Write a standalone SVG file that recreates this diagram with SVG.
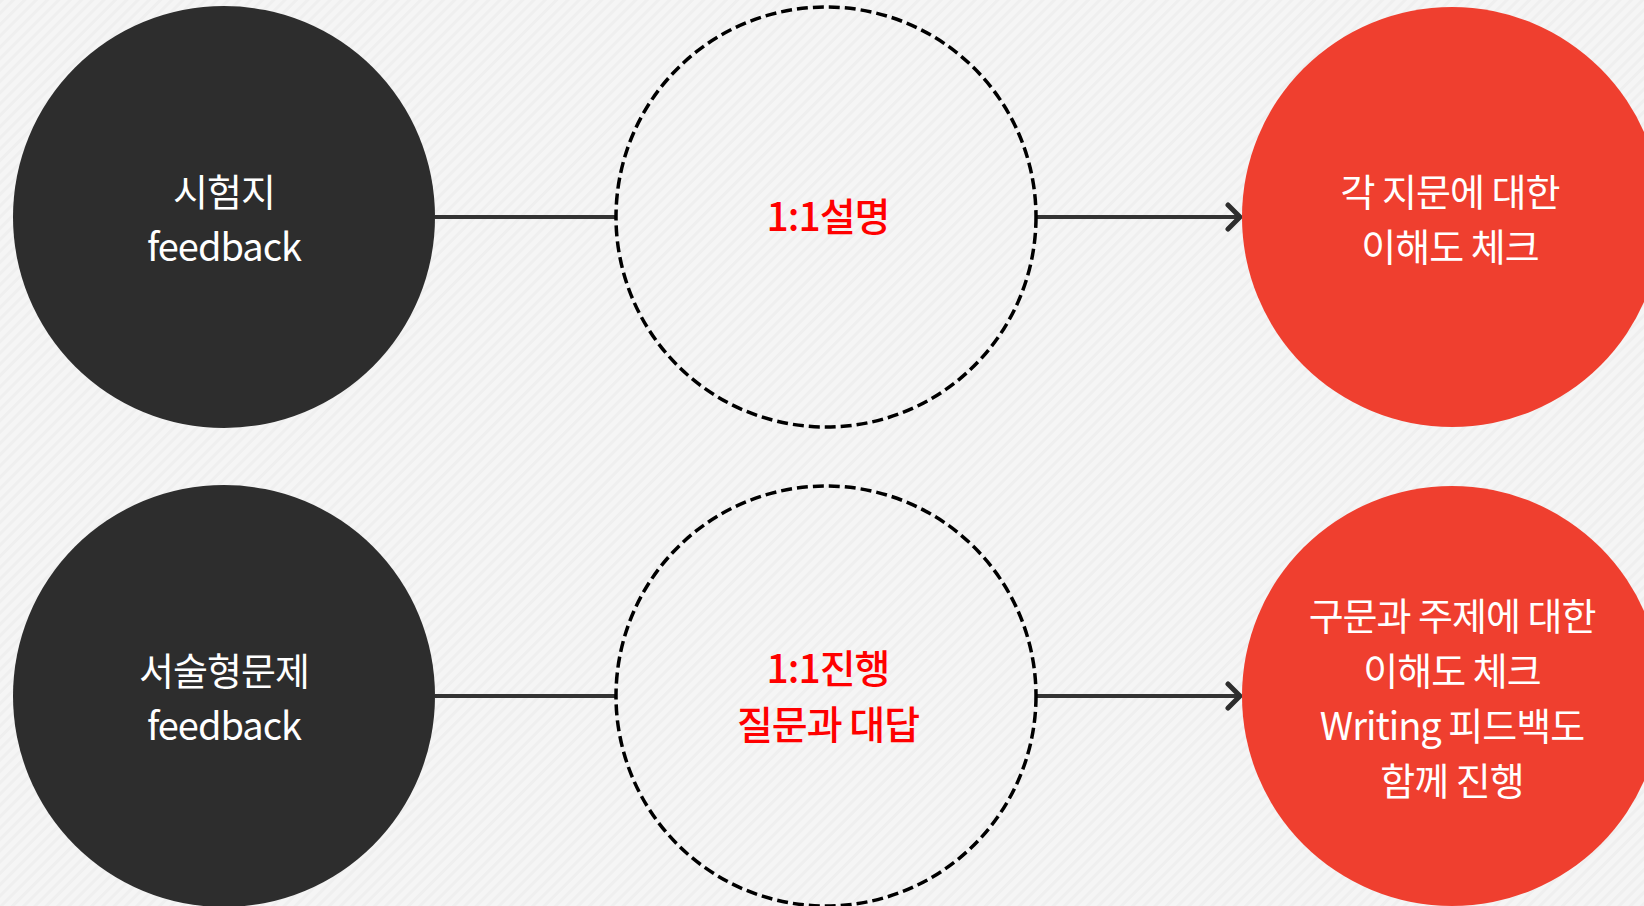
<svg xmlns="http://www.w3.org/2000/svg" width="1644" height="906" viewBox="0 0 1644 906">
<defs>
<pattern id="stripes" width="8" height="8" patternUnits="userSpaceOnUse" patternTransform="rotate(45)">
<rect width="8" height="8" fill="#f5f5f5"/>
<rect width="3" height="8" fill="#efefef"/>
</pattern>
<marker id="arrow" markerWidth="20" markerHeight="30" refX="16" refY="15" orient="auto" markerUnits="userSpaceOnUse">
<path d="M4,3 L16,15 L4,27" fill="none" stroke="#2d2d2d" stroke-width="5" stroke-linecap="round" stroke-linejoin="round"/>
</marker>
<style>
.dark{fill:#2d2d2d}
.red{fill:#ef3f2f}
.dash{fill:none;stroke:#000;stroke-width:3.5;stroke-dasharray:11 5}
.conn{stroke:#333;stroke-width:4;fill:none}
.wt{fill:#fff;font-family:"Noto Sans CJK KR","Noto Sans",sans-serif;font-size:38px;text-anchor:middle;letter-spacing:-1px}
.rt{fill:#ff0000;font-family:"Noto Sans CJK KR","Noto Sans",sans-serif;font-size:39px;font-weight:500;text-anchor:middle;letter-spacing:-1px}
</style>
</defs>
<rect width="1644" height="906" fill="url(#stripes)"/>
<g id="connectors">
<line class="conn" x1="435" y1="217" x2="615" y2="217"/>
<line class="conn" x1="1037" y1="217" x2="1240" y2="217" marker-end="url(#arrow)"/>
<line class="conn" x1="435" y1="696" x2="615" y2="696"/>
<line class="conn" x1="1037" y1="696" x2="1240" y2="696" marker-end="url(#arrow)"/>
</g>
<g id="node-exam">
<circle class="dark" cx="224" cy="217" r="211"/>
<text class="wt" x="224" y="206">시험지</text>
<text class="wt" x="224" y="261">feedback</text>
</g>
<g id="node-explain">
<circle class="dash" cx="826" cy="217" r="210"/>
<text class="rt" x="828" y="231">1:1설명</text>
</g>
<g id="node-check1">
<circle class="red" cx="1452" cy="217" r="210"/>
<text class="wt" x="1450" y="206">각 지문에 대한</text>
<text class="wt" x="1450" y="261">이해도 체크</text>
</g>
<g id="node-essay">
<circle class="dark" cx="224" cy="696" r="211"/>
<text class="wt" x="224" y="685">서술형문제</text>
<text class="wt" x="224" y="740">feedback</text>
</g>
<g id="node-qa">
<circle class="dash" cx="826" cy="696" r="210"/>
<text class="rt" x="828" y="683">1:1진행</text>
<text class="rt" x="828" y="739">질문과 대답</text>
</g>
<g id="node-check2">
<circle class="red" cx="1452" cy="696" r="210"/>
<text class="wt" x="1452" y="630">구문과 주제에 대한</text>
<text class="wt" x="1452" y="685">이해도 체크</text>
<text class="wt" x="1452" y="740">Writing 피드백도</text>
<text class="wt" x="1452" y="795">함께 진행</text>
</g>
</svg>
